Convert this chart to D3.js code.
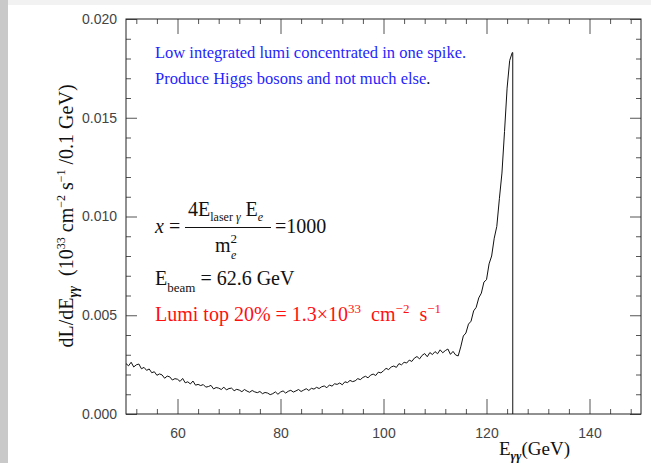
<!DOCTYPE html>
<html>
<head>
<meta charset="utf-8">
<script src="https://cdn.jsdelivr.net/npm/d3@7"></script>
<style>
  body { margin: 0; background: #fff; }
  svg { display: block; }
  .tick-label { font-family: "Liberation Sans", Arial, sans-serif; font-size: 14px; fill: #444; }
  .serif { font-family: "Liberation Serif", "Times New Roman", serif; white-space: pre; }
</style>
</head>
<body>
<svg id="chart" width="651" height="463"></svg>
<script>
// Histogram bins: 0.5 GeV wide, starting at 50 GeV
const binStart = 50;
const binWidth = 0.5;
const lumi = [
  .00255, .00244, .00262, .00238, .00249, .00253, .00229, .00236, .00221, .00228, // 50 - 54.5
  .00209, .00214, .00196, .00203, .00198, .00181, .00192, .00188, .00172, .00179, // 55 - 59.5
  .00176, .00165, .00180, .00158, .00163, .00152, .00167, .00146, .00150, .00144, // 60 - 64.5
  .00149, .00136, .00139, .00145, .00127, .00134, .00131, .00124, .00136, .00122, // 65 - 69.5
  .00129, .00131, .00118, .00125, .00121, .00113, .00124, .00116, .00110, .00119, // 70 - 74.5
  .00112, .00108, .00114, .00103, .00109, .00106, .00098, .00103, .00112, .00100, // 75 - 79.5
  .00111, .00117, .00106, .00115, .00120, .00111, .00117, .00124, .00114, .00121, // 80 - 84.5
  .00128, .00119, .00130, .00126, .00135, .00129, .00138, .00142, .00133, .00147, // 85 - 89.5
  .00141, .00153, .00150, .00157, .00148, .00163, .00159, .00170, .00164, .00168, // 90 - 94.5
  .00179, .00174, .00185, .00191, .00183, .00197, .00202, .00195, .00212, .00208, // 95 - 99.5
  .00219, .00231, .00225, .00238, .00243, .00236, .00255, .00249, .00262, .00258, // 100 - 104.5
  .00273, .00266, .00283, .00291, .00279, .00297, .00306, .00290, .00311, .00301, // 105 - 109.5
  .00316, .00305, .00325, .00310, .00321, .00329, .00302, .00317, .00299, .00294, // 110 - 114.5
  .00340, .00395, .00410, .00455, .00470, .00522, .00540, .00588, .00612, .00668, // 115 - 119.5
  .00680, .00760, .00800, .00890, .00950, .01090, .01220, .01430, .01650, .01790, // 120 - 124.5
  .01830                                                                           // 125.0
];
// upper kinematic edge of the spectrum, where it falls to zero
const spectrumEdge = 125.1;

const xMajorTicks = [60, 80, 100, 120, 140];
const xMinorTicks = [52, 56, 64, 68, 72, 76, 84, 88, 92, 96, 104, 108, 112, 116, 124, 128, 132, 136, 144, 148];
const yMajorTicks = [0, 0.005, 0.010, 0.015, 0.020];
const yMinorTicks = [0.001, 0.002, 0.003, 0.004, 0.006, 0.007, 0.008, 0.009, 0.011, 0.012, 0.013, 0.014, 0.016, 0.017, 0.018, 0.019];

const svg = d3.select("#chart");

// page decoration: grey strip on the left, faint band on top
svg.append("rect").attr("x", 0).attr("y", 0).attr("width", 651).attr("height", 5).attr("fill", "#f2f2f2");
svg.append("rect").attr("x", 0).attr("y", 0).attr("width", 8).attr("height", 463).attr("fill", "#c9c9c9");

const plotLeft = 126, plotRight = 641, plotTop = 19, plotBottom = 414;
const x = d3.scaleLinear().domain([50, 150]).range([plotLeft, plotRight]);
const y = d3.scaleLinear().domain([0, 0.020]).range([plotBottom, plotTop]);

// axes with inward ticks on all four sides
function addAxis(axisFn, scale, ticks, size, tx, ty, labels) {
  const g = svg.append("g")
    .attr("transform", `translate(${tx},${ty})`)
    .call(axisFn(scale).tickValues(ticks).tickSize(-size).tickSizeOuter(0)
      .tickFormat(labels ? labels : () => ""));
  g.select(".domain").remove();
  g.selectAll(".tick line").attr("stroke", "#555").attr("stroke-width", 1);
  g.selectAll(".tick text").attr("class", "tick-label").attr("fill", null);
  return g;
}

const bx = addAxis(d3.axisBottom, x, xMajorTicks, 15, 0, plotBottom, d3.format("d"));
bx.selectAll(".tick text").attr("y", 14);
addAxis(d3.axisBottom, x, xMinorTicks, 5, 0, plotBottom);
addAxis(d3.axisTop, x, xMajorTicks, 15, 0, plotTop);
addAxis(d3.axisTop, x, xMinorTicks, 5, 0, plotTop);

const ly = addAxis(d3.axisLeft, y, yMajorTicks, 11, plotLeft, 0, d3.format(".3f"));
ly.selectAll(".tick text").attr("x", -9);
addAxis(d3.axisLeft, y, yMinorTicks, 5, plotLeft, 0);
addAxis(d3.axisRight, y, yMajorTicks, 11, plotRight, 0);
addAxis(d3.axisRight, y, yMinorTicks, 5, plotRight, 0);

// frame
svg.append("rect")
  .attr("x", plotLeft).attr("y", plotTop)
  .attr("width", plotRight - plotLeft).attr("height", plotBottom - plotTop)
  .attr("fill", "none").attr("stroke", "#222").attr("stroke-width", 1);

// spectrum: bins, then the sharp edge down to zero
const points = lumi.map((v, i) => [binStart + i * binWidth, v]);
points.push([spectrumEdge, lumi[lumi.length - 1]]);
points.push([spectrumEdge, 0]);

const line = d3.line()
  .x(d => x(d[0]))
  .y(d => y(d[1]));

svg.append("path")
  .datum(points)
  .attr("d", line)
  .attr("fill", "none")
  .attr("stroke", "#111")
  .attr("stroke-width", 1)
  .attr("stroke-linejoin", "miter");

// axis titles
const xt = svg.append("text").attr("class", "serif").attr("x", 499).attr("y", 455)
  .attr("font-size", 19).attr("fill", "#111");
xt.append("tspan").text("E");
xt.append("tspan").attr("dy", 5).attr("font-size", 13).attr("font-weight", "bold").attr("font-style", "italic").text("γγ");
xt.append("tspan").attr("dy", -5).text("(GeV)");

const yt = svg.append("text").attr("class", "serif")
  .attr("transform", "translate(73,216) rotate(-90)")
  .attr("text-anchor", "middle").attr("font-size", 20).attr("fill", "#111");
yt.append("tspan").text("dL/dE");
yt.append("tspan").attr("dy", 5).attr("font-size", 14).attr("font-weight", "bold").attr("font-style", "italic").text("γγ");
yt.append("tspan").attr("dy", -5).text("  (10");
yt.append("tspan").attr("dy", -8).attr("font-size", 12).text("33");
yt.append("tspan").attr("dy", 8).text(" cm");
yt.append("tspan").attr("dy", -8).attr("font-size", 12).text("−2");
yt.append("tspan").attr("dy", 8).text(" s");
yt.append("tspan").attr("dy", -8).attr("font-size", 12).text("−1");
yt.append("tspan").attr("dy", 8).text(" /0.1 GeV)");

// blue notes
const blue = "#1f1fff";
svg.append("text").attr("class", "serif").attr("x", 155).attr("y", 58)
  .attr("font-size", 16.5).attr("fill", blue).text("Low integrated lumi concentrated in one spike.");
const n2 = svg.append("text").attr("class", "serif").attr("x", 155).attr("y", 84)
  .attr("font-size", 16.5).attr("fill", blue);
n2.append("tspan").text("Produce Higgs bosons and not much else");
n2.append("tspan").attr("fill", "#111").text(".");

// formula x = 4 E_laser E_e / m_e^2 = 1000
const fx = svg.append("text").attr("class", "serif").attr("x", 155).attr("y", 233)
  .attr("font-size", 20).attr("fill", "#111");
fx.append("tspan").attr("font-style", "italic").text("x");
fx.append("tspan").text(" =");

const num = svg.append("text").attr("class", "serif").attr("x", 188).attr("y", 216)
  .attr("font-size", 20).attr("fill", "#111");
num.append("tspan").text("4E");
num.append("tspan").attr("dy", 5).attr("font-size", 12).text("laser ");
num.append("tspan").attr("font-size", 12).attr("font-style", "italic").text("γ");
num.append("tspan").attr("dy", -5).text(" E");
num.append("tspan").attr("dy", 5).attr("font-size", 12).attr("font-style", "italic").text("e");

svg.append("line").attr("x1", 185).attr("x2", 271).attr("y1", 227.5).attr("y2", 227.5)
  .attr("stroke", "#111").attr("stroke-width", 1);

const den = svg.append("text").attr("class", "serif").attr("x", 215).attr("y", 252)
  .attr("font-size", 20).attr("fill", "#111");
den.append("tspan").text("m");
den.append("tspan").attr("dy", -9).attr("font-size", 13).text("2");
svg.append("text").attr("class", "serif").attr("x", 231).attr("y", 259)
  .attr("font-size", 12).attr("font-style", "italic").attr("fill", "#111").text("e");

svg.append("text").attr("class", "serif").attr("x", 275).attr("y", 233)
  .attr("font-size", 20).attr("fill", "#111").text("=1000");

// beam energy
const eb = svg.append("text").attr("class", "serif").attr("x", 155).attr("y", 285)
  .attr("font-size", 20).attr("fill", "#111");
eb.append("tspan").text("E");
eb.append("tspan").attr("dy", 7).attr("font-size", 13).text("beam");
eb.append("tspan").attr("dy", -7).text(" = 62.6 GeV");

// luminosity in red
const lr = svg.append("text").attr("class", "serif").attr("x", 155).attr("y", 321)
  .attr("font-size", 20).attr("fill", "#ff1010");
lr.append("tspan").text("Lumi top 20% = 1.3×10");
lr.append("tspan").attr("dy", -8).attr("font-size", 13).text("33");
lr.append("tspan").attr("dy", 8).text("  cm");
lr.append("tspan").attr("dy", -8).attr("font-size", 13).text("−2");
lr.append("tspan").attr("dy", 8).text("  s");
lr.append("tspan").attr("dy", -8).attr("font-size", 13).text("−1");
</script>
</body>
</html>
